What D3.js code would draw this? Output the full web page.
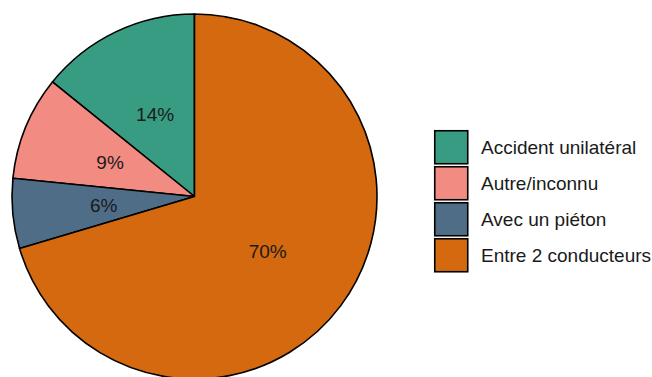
<!DOCTYPE html>
<html><head><meta charset="utf-8">
<script src="https://cdn.jsdelivr.net/npm/d3@7"></script>
<style>body{margin:0;background:#fff}svg{display:block}</style>
</head><body>
<script>
const categories = ["Accident unilatéral","Autre/inconnu","Avec un piéton","Entre 2 conducteurs"];
const values = [14.2, 9.2, 6.2, 70.4];
const colors = ["#389C82","#F28B82","#4F6D87","#D5690F"];

const W = 652, H = 377;
const cx = 194.5, cy = 196.5, R = 182.5;
const svg = d3.select("body").append("svg").attr("width", W).attr("height", H);
const data = categories.map((c,i)=>({c, v: values[i], col: colors[i]}));
const pie = d3.pie().value(d=>d.v).sort(null).startAngle(0).endAngle(-2*Math.PI);
const arcs = pie(data);
const arc = d3.arc().innerRadius(0).outerRadius(R);
const g = svg.append("g").attr("transform", `translate(${cx},${cy})`);
g.selectAll("path").data(arcs).join("path")
  .attr("d", arc).attr("fill", d=>d.data.col)
  .attr("stroke", "#000").attr("stroke-width", 1.6).attr("stroke-linejoin","round");
const labelArc = d3.arc().innerRadius(R*0.5).outerRadius(R*0.5);
g.selectAll("text").data(arcs).join("text")
  .attr("transform", d=>`translate(${labelArc.centroid(d)})`)
  .attr("text-anchor","middle").attr("dy","0.36em")
  .attr("font-family","Liberation Sans, Arial, sans-serif").attr("font-size", 19)
  .attr("fill","#1a1a1a")
  .text(d=>Math.round(d.data.v)+"%");

const lg = svg.append("g").attr("transform","translate(434,130)");
const ks = 36;
const items = lg.selectAll("g").data(data).join("g").attr("transform",(d,i)=>`translate(0,${i*ks})`);
items.append("rect").attr("x",0.75).attr("y",0.75).attr("width",33).attr("height",33)
  .attr("fill",d=>d.col).attr("stroke","#000").attr("stroke-width",1.6);
items.append("text").attr("x",47).attr("y",17).attr("dy","0.36em")
  .attr("font-family","Liberation Sans, Arial, sans-serif").attr("font-size",19).attr("fill","#1a1a1a")
  .text(d=>d.c);
</script>
</body></html>
